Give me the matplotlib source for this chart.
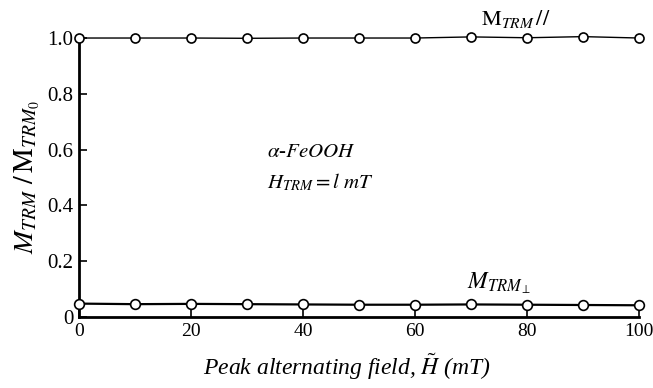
import matplotlib
matplotlib.use("Agg")
import matplotlib.pyplot as plt

plt.rcParams['font.family'] = ['Liberation Serif', 'DejaVu Serif']
plt.rcParams['mathtext.fontset'] = 'stix'

field = [0, 10, 20, 30, 40, 50, 60, 70, 80, 90, 100]
m_par = [1.0, 1.0, 1.0, 0.999, 1.0, 1.0, 1.0, 1.004, 1.001, 1.005, 1.0]
m_perp = [0.048, 0.046, 0.047, 0.046, 0.045, 0.044, 0.044, 0.045, 0.044, 0.043, 0.042]
xticks = [0, 20, 40, 60, 80, 100]
yticks = [0, 0.2, 0.4, 0.6, 0.8, 1.0]
ytick_labels = ['0', '0.2', '0.4', '0.6', '0.8', '1.0']

fig = plt.figure(figsize=(6.53, 3.88), dpi=100)
ax = fig.add_axes([0.121, 0.183, 0.858, 0.719])

ax.plot(field, m_par, color='black', lw=1.0, marker='o', ms=6.5,
        mfc='white', mec='black', mew=1.2, clip_on=False, zorder=3)
ax.plot(field, m_perp, color='black', lw=1.6, marker='o', ms=7,
        mfc='white', mec='black', mew=1.2, clip_on=False, zorder=3)

ax.set_xlim(0, 100)
ax.set_ylim(0, 1.0)
ax.spines['top'].set_visible(False)
ax.spines['right'].set_visible(False)
ax.spines['left'].set_linewidth(2.0)
ax.spines['bottom'].set_linewidth(2.0)
ax.set_xticks(xticks)
ax.set_yticks(yticks)
ax.set_yticklabels(ytick_labels)
ax.tick_params(direction='in', length=6, width=1.2, pad=4)
ax.tick_params(axis='x', labelsize=14)
ax.tick_params(axis='y', labelsize=15)

ax.set_ylabel(r'$M_{TRM}\ /\,\mathrm{M}_{TRM_0}$', fontsize=20, labelpad=4)
ax.set_xlabel(r'Peak alternating field, $\tilde{H}$ (mT)', style='italic',
              fontsize=17, labelpad=10)
ax.xaxis.set_label_coords(0.479, -0.125)

ax.text(78, 1.03, r'$\mathrm{M}_{TRM}\,//$', fontsize=16, ha='center', va='bottom')
ax.text(33.5, 0.575, r'$\alpha$-$\mathit{FeOOH}$', fontsize=15)
ax.text(33.5, 0.46, r'$H_{TRM}=l\ mT$', fontsize=15)
ax.text(75, 0.075, r'$M_{TRM_{\perp}}$', fontsize=17, ha='center', va='bottom')

fig.savefig('out.png', dpi=100)
